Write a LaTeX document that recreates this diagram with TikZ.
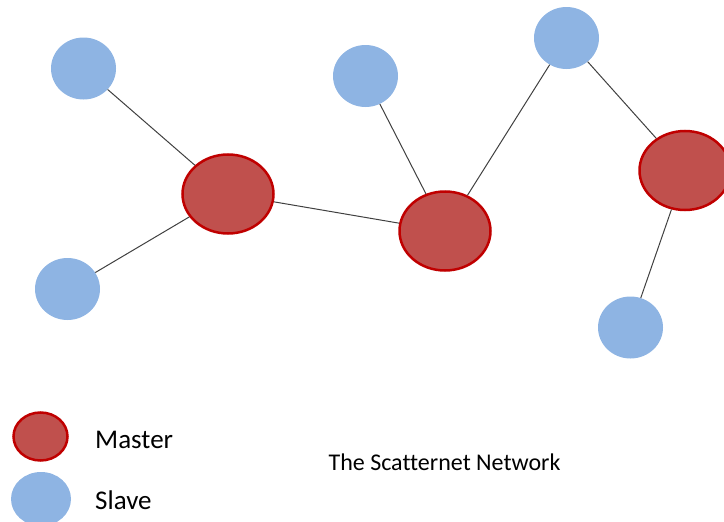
\documentclass[tikz,border=0pt]{standalone}
\usepackage{fontspec}
\setmainfont[Ligatures=NoCommon]{Carlito}
\usetikzlibrary{shapes.geometric}
\definecolor{masterfill}{HTML}{C0504D}
\definecolor{masterline}{HTML}{C00000}
\definecolor{slavefill}{HTML}{8EB4E3}
\definecolor{linkgray}{HTML}{404040}
\begin{document}
\begin{tikzpicture}[x=1pt,y=-1pt,
  master/.style={ellipse,fill=masterfill,draw=masterline,line width=2.5pt,minimum width=91pt,minimum height=79pt,inner sep=0pt},
  slave/.style={ellipse,fill=slavefill,minimum width=65pt,minimum height=62pt,inner sep=0pt},
  legmaster/.style={ellipse,fill=masterfill,draw=masterline,line width=2.5pt,minimum width=54pt,minimum height=48pt,inner sep=0pt},
  legslave/.style={ellipse,fill=slavefill,minimum width=60pt,minimum height=54pt,inner sep=0pt},
  link/.style={draw=linkgray,line width=1pt},
  label/.style={font=\fontsize{27}{31}\selectfont,anchor=west,inner sep=0pt},
  title/.style={font=\fontsize{24}{28}\selectfont,inner sep=0pt}]
\useasboundingbox (0,0) rectangle (724,522);
\node[slave] (s1) at (83.5,68.5) {};
\node[slave] (s2) at (67.5,289) {};
\node[slave] (s3) at (365.5,76) {};
\node[slave] (s4) at (566.5,38) {};
\node[slave] (s5) at (630.5,327.5) {};
\node[master] (m1) at (228,194) {};
\node[master] (m2) at (445,231) {};
\node[master] (m3) at (685,170.5) {};
\draw[link] (s1) -- (m1);
\draw[link] (s2) -- (m1);
\draw[link] (m1) -- (m2);
\draw[link] (s3) -- (m2);
\draw[link] (s4) -- (m2);
\draw[link] (s4) -- (m3);
\draw[link] (m3) -- (s5);
\node[legmaster] (lm) at (40.5,436.5) {};
\node[legslave] (ls) at (41,499) {};
\node[label] (tm) at (95,440) {Master};
\node[label] (ts) at (95,500) {Slave};
\node[title] (tt) at (444.5,462) {The Scatternet Network};
\end{tikzpicture}
\end{document}
